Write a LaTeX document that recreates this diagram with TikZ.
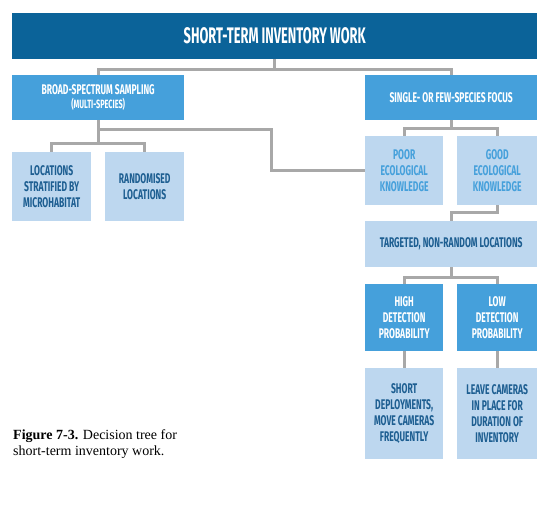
\documentclass[tikz,border=0pt]{standalone}
\usepackage{fontspec}
\newfontfamily\condfont[FakeStretch=0.61]{Fira Sans}
\newfontfamily\titlefont[FakeStretch=0.57]{Fira Sans}
\setmainfont{Liberation Serif}
\usetikzlibrary{positioning}
\definecolor{darkblue}{HTML}{0B6399}
\definecolor{midblue}{HTML}{45A0DB}
\definecolor{lightblue}{HTML}{BDD7EF}
\definecolor{textblue}{HTML}{1D5E91}
\definecolor{conngray}{HTML}{A8A8A8}
\tikzset{
  x=1pt, y=-1pt,
  basebox/.style={anchor=north west, inner sep=0pt, align=center, font=\condfont\bfseries\fontsize{14}{16}\selectfont},
  titlebox/.style={basebox, fill=darkblue, text=white, font=\titlefont\bfseries\fontsize{22.5}{24}\selectfont},
  midbox/.style={basebox, fill=midblue, text=white},
  lightbox/.style={basebox, fill=lightblue, text=textblue},
  paleboxtext/.style={basebox, fill=lightblue, text=midblue},
  conn/.style={draw=conngray, line width=3pt},
}
\begin{document}
\begin{tikzpicture}
\path[use as bounding box, fill=white] (0,0) rectangle (554,506);
\coordinate (m1) at (271,129);
\node[titlebox, minimum width=525, minimum height=46] (title) at (12,13) {SHORT-TERM INVENTORY WORK};
\node[midbox, minimum width=172, minimum height=45] (broad) at (12,75) {BROAD-SPECTRUM SAMPLING\\[-2pt]{\fontsize{12}{12}\selectfont (MULTI-SPECIES)}};
\node[midbox, minimum width=172, minimum height=45] (single) at (365,75) {SINGLE- OR FEW-SPECIES FOCUS};
\node[lightbox, minimum width=79, minimum height=69] (loc) at (12,152) {LOCATIONS\\STRATIFIED BY\\MICROHABITAT};
\node[lightbox, minimum width=79, minimum height=69] (rand) at (105,152) {RANDOMISED\\LOCATIONS};
\node[paleboxtext, minimum width=78, minimum height=69] (poor) at (365,136) {POOR\\ECOLOGICAL\\KNOWLEDGE};
\node[paleboxtext, minimum width=80, minimum height=69] (good) at (457,136) {GOOD\\ECOLOGICAL\\KNOWLEDGE};
\node[lightbox, minimum width=172, minimum height=46] (target) at (365,221) {TARGETED, NON-RANDOM LOCATIONS};
\node[midbox, minimum width=78, minimum height=67] (high) at (365,284) {HIGH\\DETECTION\\PROBABILITY};
\node[midbox, minimum width=80, minimum height=67] (low) at (457,284) {LOW\\DETECTION\\PROBABILITY};
\node[lightbox, minimum width=78, minimum height=91] (short) at (365,368) {SHORT\\DEPLOYMENTS,\\MOVE CAMERAS\\FREQUENTLY};
\node[lightbox, minimum width=80, minimum height=91] (leave) at (457,368) {LEAVE CAMERAS\\IN PLACE FOR\\DURATION OF\\INVENTORY};
% connectors
\draw[conn] (title.south) -- ++(0,10) coordinate (t1) -| (broad.north);
\draw[conn] (t1) -| (single.north);
\draw[conn] (broad.south) |- (m1) |- (poor.west);
\draw[conn] (broad.south) -- ++(0,23) coordinate (b1) -| (loc.north);
\draw[conn] (b1) -| (rand.north);
\draw[conn] (single.south) -- ++(0,8) coordinate (s1) -| (poor.north);
\draw[conn] (s1) -| (good.north);
\draw[conn] (good.south) -- ++(0,7) -| (target.north);
\draw[conn] (target.south) -- ++(0,10) coordinate (g1) -| (high.north);
\draw[conn] (g1) -| (low.north);
\draw[conn] (high.south) -- (short.north);
\draw[conn] (low.south) -- (leave.north);
% caption
\node[anchor=north west, inner sep=0pt, align=left, font=\fontsize{14}{16.5}\selectfont] (cap) at (13,429)
  {\textbf{Figure 7-3.} Decision tree for\\short-term inventory work.};
\end{tikzpicture}
\end{document}
